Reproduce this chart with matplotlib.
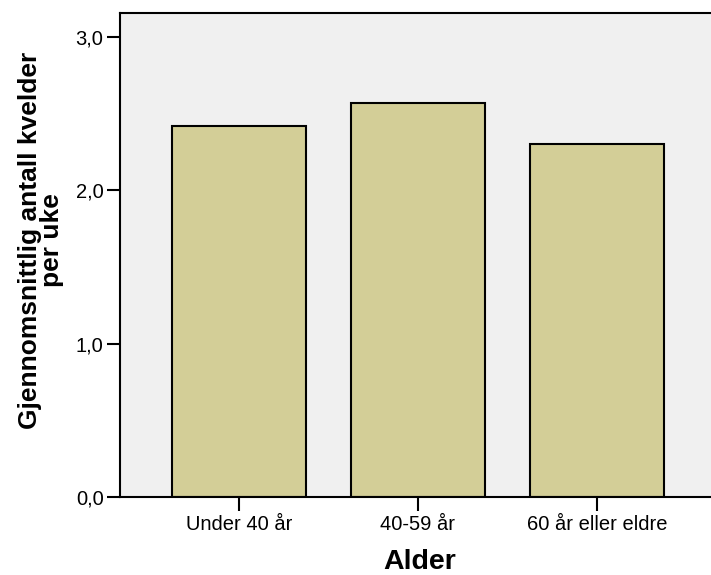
import matplotlib

matplotlib.use("Agg")
import matplotlib.pyplot as plt

categories = ["Under 40 år", "40-59 år", "60 år eller eldre"]
values = [2.42, 2.57, 2.30]
y_ticks = [0.0, 1.0, 2.0, 3.0]
y_tick_labels = ["0,0", "1,0", "2,0", "3,0"]

plt.rcParams["font.family"] = ["Liberation Sans", "DejaVu Sans"]

fig = plt.figure(figsize=(7.11, 5.75), dpi=100)
ax = fig.add_axes([119.5 / 711, 78 / 575, 597 / 711, 484 / 575])
ax.set_facecolor("#F0F0F0")

x = list(range(len(categories)))
ax.bar(x, values, width=0.75, color="#D3CE97", edgecolor="black", linewidth=1.5, zorder=2)

ax.set_xlim(-0.667, 2.667)
ax.set_ylim(0, 3.155)
ax.set_xticks(x)
ax.set_xticklabels(categories, fontsize=14.5)
ax.set_yticks(y_ticks)
ax.set_yticklabels(y_tick_labels, fontsize=14.5)
ax.tick_params(axis="x", length=10, width=1.5, pad=3)
ax.tick_params(axis="y", length=9.5, width=1.5, pad=2)

for side in ["left", "bottom", "top"]:
    ax.spines[side].set_linewidth(1.5)
ax.spines["right"].set_visible(False)

fig.text(420 / 711, 1 - 569 / 575, "Alder", fontsize=20.5, fontweight="bold",
         ha="center", va="baseline")
fig.text(41 / 711, 1 - 240 / 575, "Gjennomsnittlig antall kvelder\nper uke", fontsize=19,
         fontweight="bold", rotation=90, ha="center", va="center",
         multialignment="center", linespacing=0.85)

fig.savefig("out.png", dpi=100)
plt.close(fig)
